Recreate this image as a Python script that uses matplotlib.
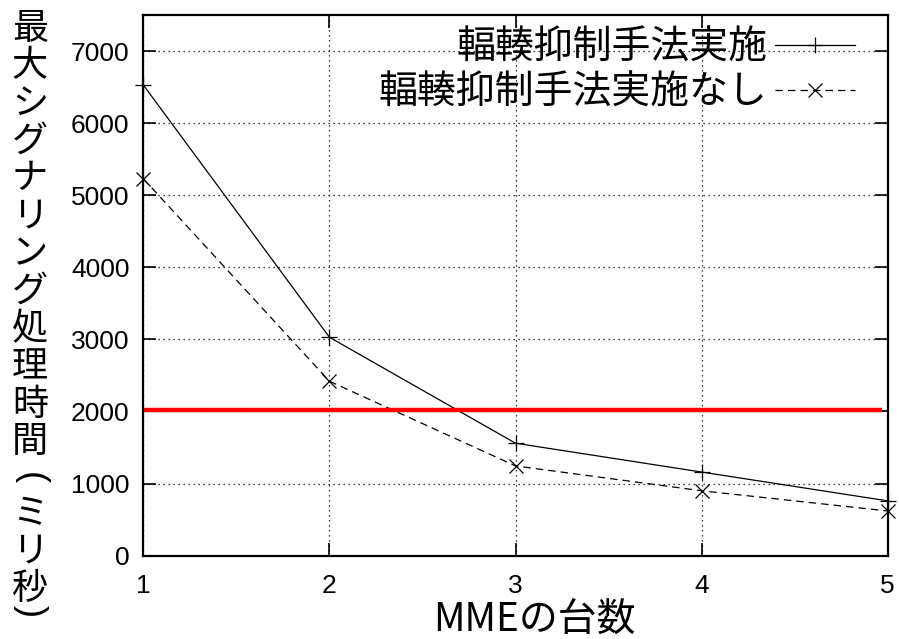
import numpy as np
import matplotlib
matplotlib.use("Agg")
import matplotlib.pyplot as plt

plt.rcParams['font.family'] = ['Liberation Sans', 'Noto Sans CJK JP', 'DejaVu Sans']

# data
mme_count = [1, 2, 3, 4, 5]
with_control = [6530, 3030, 1560, 1160, 760]
without_control = [5230, 2420, 1245, 900, 620]
threshold = 2020

label_with = '輻輳抑制手法実施'
label_without = '輻輳抑制手法実施なし'
xlabel = 'MMEの台数'
ylabel = '最大シグナリング処理時間(ミリ秒)'

W, H = 899, 639
fig = plt.figure(figsize=(W / 100, H / 100), dpi=100)
ax = fig.add_axes([0.1594, 0.1304, 0.8281, 0.8461])

ax.plot(mme_count, with_control, color='black', lw=0.9, ls='-',
        marker='+', ms=12, mew=0.9, label=label_with, clip_on=False)
ax.plot(mme_count, without_control, color='black', lw=0.9, ls=(0, (6, 4)),
        marker='x', ms=10, mew=0.9, label=label_without, clip_on=False)
ax.plot([1, 4.97], [threshold, threshold], color='#ff0000', lw=3.2,
        solid_capstyle='butt')

ax.set_xlim(1, 5)
ax.set_ylim(0, 7500)
ax.set_xticks(mme_count)
ax.set_yticks(np.arange(0, 7001, 1000))
ax.grid(True, color='black', ls=(0, (1, 3)), lw=0.9)
ax.tick_params(direction='in', length=9.5, width=1.2, top=True, right=True,
               labelsize=19, pad=10)
ax.tick_params(axis='x', pad=13)
for s in ax.spines.values():
    s.set_linewidth(1.6)

# x label (slightly right of centre, as in the original)
fig.text(534 / W, 1 - 620 / H, xlabel, fontsize=28, family=['Noto Sans CJK JP'],
         ha='center', va='center')

# vertical y label: upright characters stacked, brackets turned on their side
pitch = 37.6
y = 10
for ch in ylabel:
    if ch == ')':
        fig.text(30 / W, 1 - (y + pitch / 2 - 16) / H, ch, fontsize=26,
                 rotation=-90, family=['Liberation Sans'],
                 ha='center', va='center')
        continue
    adv = 0.9 if ch == '(' else 1.0
    y += adv * pitch / 2
    if ch == '(':
        fig.text(30 / W, 1 - y / H, ch, fontsize=26, rotation=-90,
                 family=['Liberation Sans'], ha='center', va='center')
    else:
        fig.text(30 / W, 1 - y / H, ch, fontsize=26,
                 family=['Noto Sans CJK JP'], ha='center', va='center')
    y += adv * pitch / 2

leg = ax.legend(loc='upper right', bbox_to_anchor=(0.956, 0.976), frameon=False,
                markerfirst=False, handlelength=2.05, borderpad=0, borderaxespad=0,
                handletextpad=0.2, labelspacing=0.13,
                prop={'family': ['Noto Sans CJK JP'], 'size': 28})

fig.savefig('out.png', dpi=100)
